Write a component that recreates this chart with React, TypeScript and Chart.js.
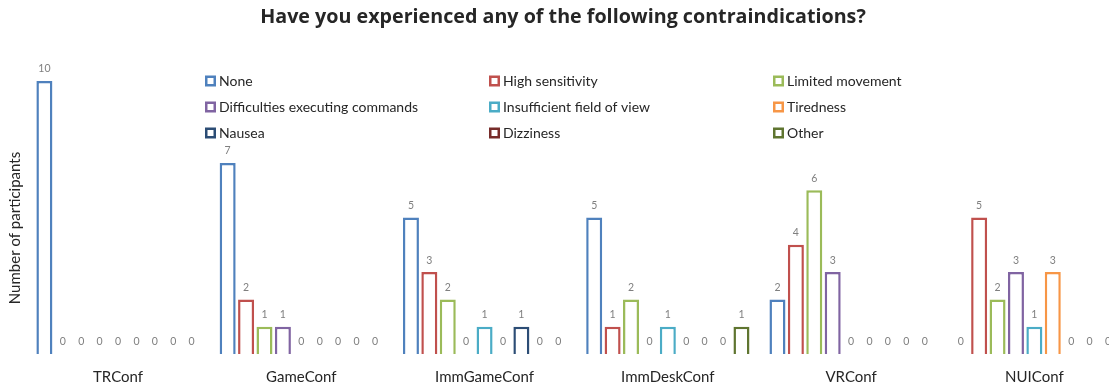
import React, { useEffect, useRef } from "react";
import { Chart, registerables } from "chart.js";

Chart.register(...registerables);

const categories = ["TRConf", "GameConf", "ImmGameConf", "ImmDeskConf", "VRConf", "NUIConf"];

const seriesNames = [
  "None",
  "High sensitivity",
  "Limited movement",
  "Difficulties executing commands",
  "Insufficient field of view",
  "Tiredness",
  "Nausea",
  "Dizziness",
  "Other",
];

const seriesColors = [
  "#4F81BD",
  "#C0504D",
  "#9BBB59",
  "#8064A2",
  "#4BACC6",
  "#F79646",
  "#2C4D75",
  "#772C2A",
  "#5F7530",
];

const none = [10, 7, 5, 5, 2, 0];
const highSensitivity = [0, 2, 3, 1, 4, 5];
const limitedMovement = [0, 1, 2, 2, 6, 2];
const difficulties = [0, 1, 0, 0, 3, 3];
const insufficientFov = [0, 0, 1, 1, 0, 1];
const tiredness = [0, 0, 0, 0, 0, 3];
const nausea = [0, 0, 1, 0, 0, 0];
const dizziness = [0, 0, 0, 0, 0, 0];
const other = [0, 0, 0, 1, 0, 0];

const seriesValues = [
  none,
  highSensitivity,
  limitedMovement,
  difficulties,
  insufficientFov,
  tiredness,
  nausea,
  dizziness,
  other,
];

const yAxisTitle = "Number of participants";

const FONT = "Lato, 'DejaVu Sans', sans-serif";
const TITLE_FONT = "'Open Sans', 'DejaVu Sans', sans-serif";

// Writes each bar's value just above its top edge.
const valueLabels = {
  id: "valueLabels",
  afterDatasetsDraw(chart: any) {
    const ctx = chart.ctx;
    ctx.save();
    ctx.font = `10.5px ${FONT}`;
    ctx.fillStyle = "#7f7f7f";
    ctx.textAlign = "center";
    ctx.textBaseline = "middle";
    chart.data.datasets.forEach((ds: any, i: number) => {
      const meta = chart.getDatasetMeta(i);
      meta.data.forEach((bar: any, j: number) => {
        ctx.fillText(String(ds.data[j]), bar.x, bar.y - 12);
      });
    });
    ctx.restore();
  },
};

// Rotated axis caption on the left margin.
const sideTitle = {
  id: "sideTitle",
  afterDraw(chart: any, _args: any, opts: any) {
    const ctx = chart.ctx;
    ctx.save();
    ctx.translate(opts.x, opts.y);
    ctx.rotate(-Math.PI / 2);
    ctx.font = `15px ${FONT}`;
    ctx.fillStyle = "#262626";
    ctx.textAlign = "center";
    ctx.textBaseline = "middle";
    ctx.fillText(opts.text, 0, 0);
    ctx.restore();
  },
};

// Three-column legend laid over the upper part of the plot.
const gridLegend = {
  id: "gridLegend",
  afterDraw(chart: any, _args: any, opts: any) {
    const ctx = chart.ctx;
    const { x0, y0, colGap, rowGap, columns, box } = opts;
    ctx.save();
    ctx.font = `14px ${FONT}`;
    ctx.textBaseline = "middle";
    ctx.textAlign = "left";
    chart.data.datasets.forEach((ds: any, i: number) => {
      const col = i % columns;
      const row = Math.floor(i / columns);
      const x = x0 + col * colGap;
      const y = y0 + row * rowGap;
      ctx.fillStyle = "#ffffff";
      ctx.fillRect(x, y - box / 2, box, box);
      ctx.strokeStyle = ds.borderColor;
      ctx.lineWidth = 2.5;
      ctx.strokeRect(x + 1.25, y - box / 2 + 1.25, box - 2.5, box - 2.5);
      ctx.fillStyle = "#262626";
      ctx.fillText(ds.label, x + box + 3, y);
    });
    ctx.restore();
  },
};

export default function App() {
  const canvasRef = useRef<HTMLCanvasElement | null>(null);

  useEffect(() => {
    if (!canvasRef.current) return;
    const chart = new Chart(canvasRef.current, {
      type: "bar",
      data: {
        labels: categories,
        datasets: seriesNames.map((name, i) => ({
          label: name,
          data: seriesValues[i],
          backgroundColor: "#ffffff",
          borderColor: seriesColors[i],
          borderWidth: 2.5,
          categoryPercentage: 0.904,
          barPercentage: 0.87,
        })),
      },
      options: {
        responsive: false,
        animation: false,
        layout: { padding: 0 },
        plugins: {
          legend: { display: false },
          tooltip: { enabled: false },
          title: {
            display: true,
            text: "Have you experienced any of the following contraindications?",
            color: "#262626",
            font: { family: TITLE_FONT, size: 19.7, weight: "bold" },
            padding: { top: 6, bottom: 51.4 },
          },
          gridLegend: { x0: 205, y0: 81, colGap: 284, rowGap: 26, columns: 3, box: 11 },
          sideTitle: { text: yAxisTitle, x: 15, y: 228 },
        } as any,
        scales: {
          x: {
            grid: { display: false, drawTicks: false },
            border: { display: false },
            ticks: {
              color: "#262626",
              font: { family: FONT, size: 15 },
              padding: 14,
              maxRotation: 0,
              autoSkip: false,
            },
          },
          y: {
            min: 0,
            max: 10,
            grid: { display: false, drawTicks: false },
            border: { display: false },
            ticks: { display: false },
            afterFit(scale: any) {
              // leave room for the rotated caption
              scale.width = 26.4;
            },
          },
        },
      },
      plugins: [valueLabels, gridLegend, sideTitle],
    });
    return () => chart.destroy();
  }, []);

  return (
    <div
      style={{
        position: "absolute",
        left: 0,
        top: 0,
        width: 1109,
        height: 385,
        overflow: "hidden",
        background: "#ffffff",
      }}
    >
      <canvas ref={canvasRef} width={1126} height={400} style={{ display: "block" }} />
    </div>
  );
}
